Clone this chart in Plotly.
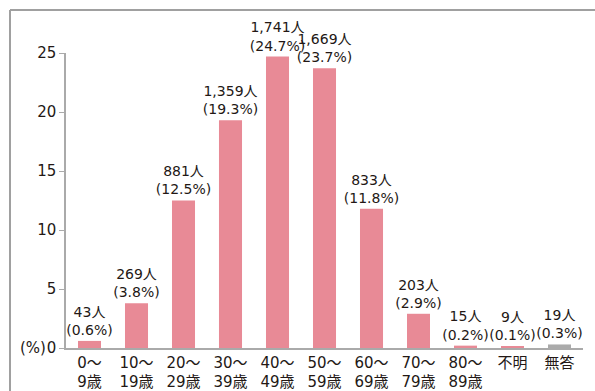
import plotly.graph_objects as go

categories = ["0〜<br>9歳", "10〜<br>19歳", "20〜<br>29歳", "30〜<br>39歳", "40〜<br>49歳",
              "50〜<br>59歳", "60〜<br>69歳", "70〜<br>79歳", "80〜<br>89歳", "不明", "無答"]
counts = ["43", "269", "881", "1,359", "1,741", "1,669", "833", "203", "15", "9", "19"]
percents = [0.6, 3.8, 12.5, 19.3, 24.7, 23.7, 11.8, 2.9, 0.2, 0.1, 0.3]
colors = ["#E88A96"] * 10 + ["#AAAAAA"]
tick_vals = [0, 5, 10, 15, 20, 25]

labels = [f"{c}人<br>({p}%)" for c, p in zip(counts, percents)]

FONT = "DejaVu Sans, Noto Sans CJK JP, sans-serif"
TXT = "#231815"

fig = go.Figure(go.Bar(
    x=categories, y=percents, marker=dict(color=colors, line=dict(width=0)),
    text=labels, textposition="outside", cliponaxis=False, constraintext="none",
    textfont=dict(family=FONT, size=14, color=TXT),
))

W, H = 595, 391
L, R, T, B = 66, 12, 53, 43
pw, ph = W - L - R, H - T - B

def px_x(x):
    return (x - L) / pw

def px_y(y):
    return (H - B - y) / ph

fig.update_layout(
    width=W, height=H, margin=dict(l=L, r=R, t=T, b=B, autoexpand=False),
    paper_bgcolor="white", plot_bgcolor="white",
    bargap=0.51, showlegend=False,
    font=dict(family=FONT, color=TXT),
    xaxis=dict(showline=True, linecolor="#AAAAAA", linewidth=1.5, ticks="",
               tickfont=dict(size=15, color=TXT), showgrid=False, automargin=False,
               ticklabelstandoff=0),
    yaxis=dict(range=[0, 25], tickvals=tick_vals, showline=True, linecolor="#AAAAAA",
               linewidth=1.5, ticks="outside", ticklen=5, tickcolor="#AAAAAA",
               tickfont=dict(size=15, color=TXT), showgrid=False, zeroline=False,
               automargin=False),
    shapes=[
        dict(type="line", xref="paper", yref="paper", x0=px_x(10), x1=px_x(600),
             y0=px_y(10), y1=px_y(10), line=dict(color="#A0A0A0", width=2)),
        dict(type="line", xref="paper", yref="paper", x0=px_x(10), x1=px_x(10),
             y0=px_y(10), y1=px_y(395), line=dict(color="#A0A0A0", width=2)),
    ],
    annotations=[
        dict(text="(%)", xref="paper", yref="paper", x=px_x(48), y=0, xanchor="right",
             yanchor="middle", showarrow=False, font=dict(size=15, color=TXT)),
    ],
)

fig.write_html("out.html")
